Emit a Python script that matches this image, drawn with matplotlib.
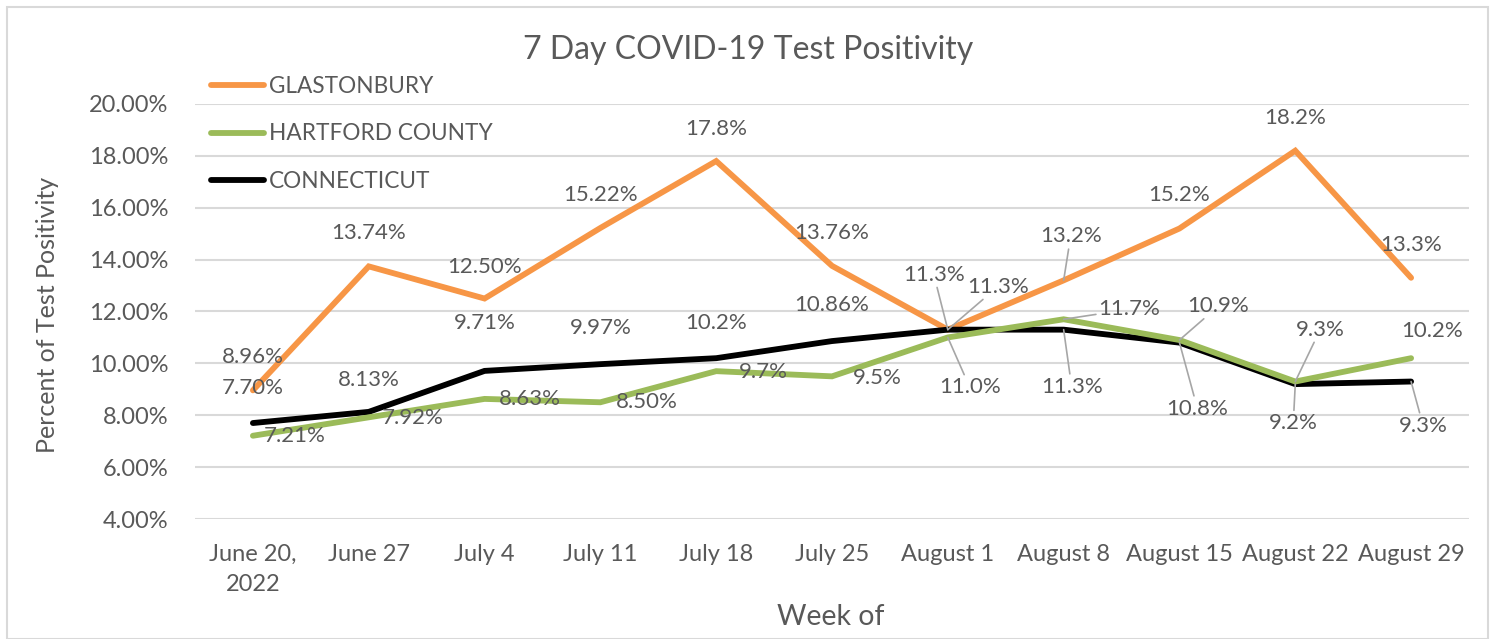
import matplotlib
matplotlib.use("Agg")
import matplotlib.pyplot as plt
from matplotlib.patches import Rectangle

plt.rcParams['font.family'] = ['Lato', 'DejaVu Sans']

weeks = ["June 20,\n2022", "June 27", "July 4", "July 11", "July 18", "July 25",
         "August 1", "August 8", "August 15", "August 22", "August 29"]
glastonbury = [8.96, 13.74, 12.50, 15.22, 17.8, 13.76, 11.3, 13.2, 15.2, 18.2, 13.3]
glast_labels = ["8.96%", "13.74%", "12.50%", "15.22%", "17.8%", "13.76%", "11.3%", "13.2%", "15.2%", "18.2%", "13.3%"]
hartford = [7.21, 7.92, 8.63, 8.50, 9.7, 9.5, 11.0, 11.7, 10.9, 9.3, 10.2]
hart_labels = ["7.21%", "7.92%", "8.63%", "8.50%", "9.7%", "9.5%", "11.0%", "11.7%", "10.9%", "9.3%", "10.2%"]
connecticut = [7.70, 8.13, 9.71, 9.97, 10.2, 10.86, 11.3, 11.3, 10.8, 9.2, 9.3]
ct_labels = ["7.70%", "8.13%", "9.71%", "9.97%", "10.2%", "10.86%", "11.3%", "11.3%", "10.8%", "9.2%", "9.3%"]
yticks = [4, 6, 8, 10, 12, 14, 16, 18, 20]

# label offsets in pixels (dx right, dy down) and leader-line flags
glast_off = [(0, -33), (0, -33), (0, -32), (0, -33), (0, -32), (0, -33), (-14, -55), (7, -44), (0, -33), (0, -33), (0, -33)]
glast_lead = [6, 7]
hart_off = [(42, 0), (44, 1), (45, 0), (46, 0), (47, 1), (45, 2), (22, 50), (66, -10), (39, -34), (25, -52), (21, -27)]
hart_lead = [6, 7, 8, 9]
ct_off = [(0, -35), (0, -32), (0, -48), (0, -36), (0, -35), (0, -36), (50, -43), (8, 57), (18, 66), (-2, 39), (12, 44)]
ct_lead = [6, 7, 8, 9, 10]

C_OR = "#F79646"
C_GR = "#9BBB59"
C_BK = "#000000"
TXT = "#595959"
GRID = "#D9D9D9"

W, H = 1494, 639
fig = plt.figure(figsize=(W / 100, H / 100), dpi=100)
fig.patches.append(Rectangle((7 / W, 0), 1481 / W, 1 - 7 / H, transform=fig.transFigure,
                             fill=False, edgecolor=GRID, linewidth=1.5))

ax = fig.add_axes([195 / W, 1 - 519 / H, (1469 - 195) / W, (519 - 104) / H])
x = list(range(len(weeks)))
lw = 4.2
l1, = ax.plot(x, glastonbury, color=C_OR, lw=lw, solid_capstyle='round', solid_joinstyle='miter', zorder=3)
l2, = ax.plot(x, hartford, color=C_GR, lw=lw, solid_capstyle='round', solid_joinstyle='miter', zorder=4)
l3, = ax.plot(x, connecticut, color=C_BK, lw=lw, solid_capstyle='round', solid_joinstyle='miter', zorder=3)

ax.set_xlim(-0.5, len(weeks) - 0.5)
ax.set_ylim(4, 20)
ax.set_yticks(yticks)
ax.set_yticklabels([f"{v:.2f}%" for v in yticks])
ax.set_xticks(x)
ax.set_xticklabels(weeks, linespacing=1.55)
ax.grid(axis='y', color=GRID, lw=1.5)
ax.set_axisbelow(True)
for s in ax.spines.values():
    s.set_visible(False)
ax.tick_params(axis='both', length=0, labelsize=17, labelcolor=TXT)
ax.tick_params(axis='y', pad=19)
ax.tick_params(axis='x', pad=18)

lbl_size = 16
def add_labels(vals, texts, offs, leads):
    for i, (v, t, (dx, dy)) in enumerate(zip(vals, texts, offs)):
        kw = {}
        if i in leads:
            kw['arrowprops'] = dict(arrowstyle='-', color='#A6A6A6', lw=1.2, shrinkA=0, shrinkB=0)
        ax.annotate(t, (i, v), xytext=(dx, -dy), textcoords='offset pixels',
                    ha='center', va='center', fontsize=lbl_size, color=TXT, zorder=6, **kw)

add_labels(glastonbury, glast_labels, glast_off, glast_lead)
add_labels(hartford, hart_labels, hart_off, hart_lead)
add_labels(connecticut, ct_labels, ct_off, ct_lead)

fig.text(748 / W, 1 - 50 / H, "7 Day COVID-19 Test Positivity", ha='center', va='center',
         fontsize=23, color=TXT)
fig.text(48 / W, 1 - 315 / H, "Percent of Test Positivity", ha='center', va='center',
         rotation=90, fontsize=18, color=TXT)
fig.text(831 / W, 1 - 617 / H, "Week of", ha='center', va='center', fontsize=20.5, color=TXT)

leg = fig.legend([l1, l2, l3], ["GLASTONBURY", "HARTFORD COUNTY", "CONNECTICUT"],
                 loc='upper left', bbox_to_anchor=(211 / W, 1 - 76 / H), frameon=False,
                 fontsize=16.3, handlelength=2.35, handletextpad=0.22, labelspacing=1.17,
                 borderpad=0, borderaxespad=0)
for t in leg.get_texts():
    t.set_color(TXT)

fig.savefig("out.png", dpi=100)
